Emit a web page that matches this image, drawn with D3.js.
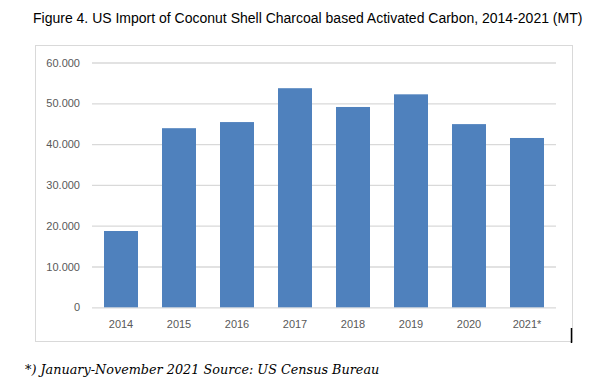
<!DOCTYPE html>
<html><head><meta charset="utf-8">
<script src="https://cdn.jsdelivr.net/npm/d3@7"></script>
<style>body{margin:0;background:#fff}svg{display:block}</style>
</head><body>
<svg id="c" width="614" height="388"></svg>
<script>
const categories = ["2014","2015","2016","2017","2018","2019","2020","2021*"];
const values = [18700, 43900, 45400, 53700, 49100, 52200, 44900, 41500];
const yTicks = [0, 10000, 20000, 30000, 40000, 50000, 60000];
const title = "Figure 4. US Import of Coconut Shell Charcoal based Activated Carbon, 2014-2021 (MT)";
const note = "*) January-November 2021 Source: US Census Bureau";

const svg = d3.select("#c");
svg.append("rect").attr("x",35.5).attr("y",45.5).attr("width",537).attr("height",296)
  .attr("fill","none").attr("stroke","#d9d9d9").attr("stroke-width",1);

const x = d3.scaleBand().domain(categories).range([92,556]).paddingInner(0.414).paddingOuter(0.207);
const y = d3.scaleLinear().domain([0,60000]).range([307.3,62.5]);

const fmt = v => v===0 ? "0" : d3.format(",")(v).replace(/,/g,".");

const yAxis = svg.append("g").attr("transform","translate(92,0)")
  .call(d3.axisLeft(y).tickValues(yTicks).tickFormat(fmt).tickSize(-464).tickPadding(12));
yAxis.select(".domain").remove();
yAxis.selectAll(".tick line").attr("stroke","#d9d9d9").attr("stroke-width",1.3);
yAxis.selectAll(".tick text").attr("fill","#595959").style("font-family","Liberation Sans, Arial, sans-serif").style("font-size","11px");

svg.append("g").selectAll("rect").data(values).join("rect")
  .attr("x",(d,i)=>x(categories[i])).attr("width",x.bandwidth())
  .attr("y",d=>y(d)).attr("height",d=>y(0)-y(d)).attr("fill","#4f81bd");

const xAxis = svg.append("g").attr("transform","translate(0,307.3)")
  .call(d3.axisBottom(x).tickSize(0).tickPadding(13));
xAxis.select(".domain").remove();
xAxis.selectAll(".tick text").attr("fill","#595959").style("font-family","Liberation Sans, Arial, sans-serif").style("font-size","11px");

svg.append("text").attr("x",33).attr("y",23).text(title)
  .style("font-family","Liberation Sans, Arial, sans-serif").style("font-size","14px").attr("fill","#000");

svg.append("text").attr("x",25).attr("y",374).text(note)
  .style("font-family","DejaVu Serif, serif").style("font-style","italic").style("font-size","12.8px").attr("fill","#000");

svg.append("line").attr("x1",571.5).attr("x2",571.5).attr("y1",328).attr("y2",343).attr("stroke","#000").attr("stroke-width",1.5);
</script>
</body></html>
